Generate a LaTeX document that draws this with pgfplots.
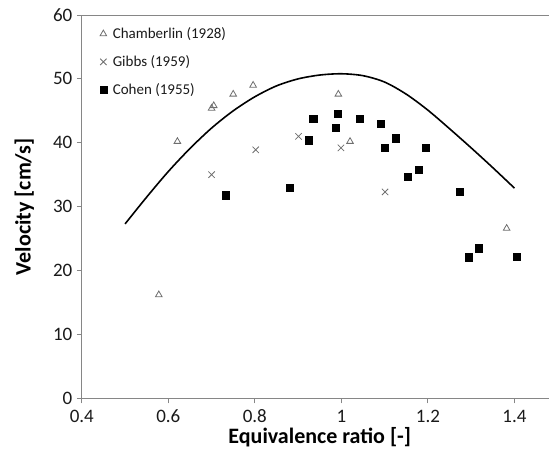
\documentclass[border=0pt]{standalone}
\usepackage{fontspec}
\setmainfont{Carlito}
\usepackage{pgfplots}
\pgfplotsset{compat=1.18}
\definecolor{axisgray}{HTML}{868686}
\definecolor{markgray}{HTML}{6E6E6E}
\definecolor{textdark}{HTML}{1A1A1A}
\begin{document}
\begin{tikzpicture}
\path[use as bounding box] (-81.8pt,-55.7pt) rectangle (467.2pt,398.3pt);
\begin{axis}[
  at={(0pt,0pt)}, anchor=south west,
  scale only axis, width=475.9pt, height=383.3pt,
  xmin=0.4, xmax=1.5, ymin=0, ymax=60,
  axis x line=bottom, axis y line=left,
  axis line style={-, draw=axisgray, line width=0.9pt},
  xtick={0.4,0.6,0.8,1,1.2,1.4},
  xticklabels={0.4,0.6,0.8,1,1.2,1.4},
  ytick={0,10,20,30,40,50,60},
  yticklabels={0,10,20,30,40,50,60},
  tick align=outside, major tick length=5pt,
  tick style={draw=axisgray, line width=0.9pt},
  ticklabel style={font=\fontsize{19}{21}\selectfont, text=textdark},
  xticklabel style={yshift=-3pt},
  yticklabel style={xshift=-1pt},
  xlabel={\textbf{Equivalence ratio [-]}},
  ylabel={\textbf{Velocity [cm/s]}},
  xlabel style={at={(axis description cs:0.5,-0.101)}, anchor=center},
  ylabel style={at={(axis description cs:-0.121,0.5)}, anchor=center, rotate=0},
  label style={font=\fontsize{22}{24}\selectfont, text=black},
  clip=false,
  legend style={at={(0.031,0.978)}, anchor=north west, draw=none, fill=none,
    font=\fontsize{15}{17}\selectfont, text=textdark, row sep=11.5pt,
    cells={anchor=west}},
  legend image code/.code={\draw[#1] plot coordinates {(0pt,0pt)}; \path (7pt,0pt);},
]
\draw[axisgray, line width=0.9pt] (rel axis cs:0,1) -- (rel axis cs:1,1);

\addplot[only marks, mark=triangle, mark size=3.8pt, draw=markgray, line width=0.8pt]
coordinates {
(0.578,16.2) (0.621,40.2) (0.700,45.4) (0.705,45.8) (0.750,47.6)
(0.796,49.0) (0.993,47.6) (1.020,40.2) (1.382,26.6)
};
\addlegendentry{Chamberlin (1928)}

\addplot[only marks, mark=x, mark size=4.5pt, draw=markgray, line width=0.8pt]
coordinates {
(0.700,35.0) (0.802,38.9) (0.901,41.0) (0.999,39.2) (1.101,32.3)
};
\addlegendentry{Gibbs (1959)}

\addplot[only marks, mark=square*, mark size=3.6pt, draw=black, fill=black]
coordinates {
(0.733,31.8) (0.881,33.0) (0.924,40.4) (0.935,43.8) (0.986,42.4)
(0.991,44.5) (1.042,43.8) (1.091,43.0) (1.101,39.2) (1.126,40.7)
(1.153,34.7) (1.178,35.8) (1.194,39.2) (1.274,32.3) (1.295,22.1)
(1.318,23.5) (1.406,22.2)
};
\addlegendentry{Cohen (1955)}

\addplot[black, line width=1.6pt, smooth, no marks, forget plot]
coordinates {
(0.50,27.3) (0.55,31.5) (0.60,35.5) (0.65,39.1) (0.70,42.3)
(0.75,45.0) (0.80,47.2) (0.85,48.9) (0.90,50.0) (0.95,50.6)
(1.00,50.8) (1.05,50.5) (1.10,49.5) (1.15,47.6) (1.20,45.1)
(1.25,42.2) (1.30,39.2) (1.35,36.1) (1.40,32.9)
};
\end{axis}
\end{tikzpicture}
\end{document}
